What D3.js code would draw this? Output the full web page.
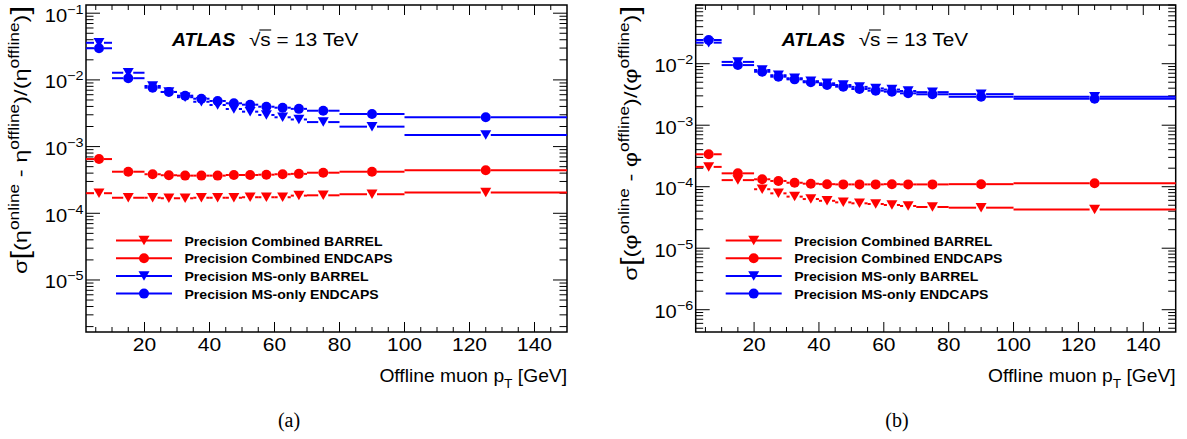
<!DOCTYPE html>
<html><head><meta charset="utf-8">
<script src="https://cdn.jsdelivr.net/npm/d3@7"></script>
<style>
body{margin:0;background:#fff}
svg{display:block}
text{font-family:"Liberation Sans",Arial,Helvetica,sans-serif;fill:#000}
</style>
</head><body>
<svg id="chart" width="1187" height="439"></svg>
<script>
// ---- data ----
const binLow    = [2, 10, 20, 25, 30, 35, 40, 45, 50, 55, 60, 65, 70, 80, 100];
const binHigh   = [10, 20, 25, 30, 35, 40, 45, 50, 55, 60, 65, 70, 80, 100, 150];
const binCenter = [6, 15, 22.5, 27.5, 32.5, 37.5, 42.5, 47.5, 52.5, 57.5, 62.5, 67.5, 75, 90, 125];

// (a) eta resolution
const etaCombBarrel  = [2.0e-4, 1.71e-4, 1.71e-4, 1.68e-4, 1.68e-4, 1.71e-4, 1.71e-4, 1.71e-4, 1.74e-4, 1.74e-4, 1.74e-4, 1.84e-4, 1.86e-4, 1.93e-4, 2.05e-4];
const etaCombEndcaps = [6.5e-4, 4.2e-4, 3.85e-4, 3.72e-4, 3.67e-4, 3.67e-4, 3.67e-4, 3.75e-4, 3.75e-4, 3.79e-4, 3.85e-4, 3.9e-4, 4.06e-4, 4.2e-4, 4.41e-4];
const etaMSBarrel    = [3.6e-2, 1.28e-2, 8.1e-3, 6.6e-3, 5.5e-3, 4.7e-3, 4.2e-3, 3.66e-3, 3.34e-3, 2.98e-3, 2.75e-3, 2.55e-3, 2.33e-3, 1.99e-3, 1.49e-3];
const etaMSEndcaps   = [2.98e-2, 1.06e-2, 7.64e-3, 6.59e-3, 5.8e-3, 5.22e-3, 4.83e-3, 4.46e-3, 4.25e-3, 3.96e-3, 3.83e-3, 3.68e-3, 3.45e-3, 3.08e-3, 2.75e-3];

// (b) phi resolution
const phiCombBarrel  = [2.1e-4, 1.28e-4, 9.1e-5, 7.8e-5, 6.9e-5, 6.3e-5, 5.9e-5, 5.57e-5, 5.37e-5, 5.23e-5, 5.04e-5, 4.86e-5, 4.68e-5, 4.56e-5, 4.28e-5];
const phiCombEndcaps = [3.37e-4, 1.65e-4, 1.32e-4, 1.24e-4, 1.16e-4, 1.12e-4, 1.1e-4, 1.09e-4, 1.09e-4, 1.09e-4, 1.1e-4, 1.09e-4, 1.09e-4, 1.1e-4, 1.135e-4];
const phiMSBarrel    = [2.2e-2, 1.07e-2, 7.9e-3, 6.5e-3, 5.8e-3, 5.2e-3, 4.8e-3, 4.5e-3, 4.2e-3, 3.97e-3, 3.8e-3, 3.6e-3, 3.45e-3, 3.2e-3, 2.9e-3];
const phiMSEndcaps   = [2.43e-2, 9.5e-3, 7.4e-3, 6.15e-3, 5.57e-3, 4.99e-3, 4.51e-3, 4.23e-3, 3.88e-3, 3.64e-3, 3.51e-3, 3.3e-3, 3.18e-3, 2.9e-3, 2.7e-3];

const legendLabels = ["Precision Combined BARREL", "Precision Combined ENDCAPS", "Precision MS-only BARREL", "Precision MS-only ENDCAPS"];
const xMajorTicks = [20, 40, 60, 80, 100, 120, 140];
const xMinorStep = 5;
const xTitle = "Offline muon p";
const captions = ["(a)", "(b)"];
const varSymbols = ["η", "φ"];

// ---- styles ----
const seriesStyle = [
  {color: "#ff0000", marker: "tri"},
  {color: "#ff0000", marker: "circ"},
  {color: "#0000ff", marker: "tri"},
  {color: "#0000ff", marker: "circ"}
];

const panels = [
  {left: 86, right: 567, top: 5, bottom: 332, yDomain: [1.66e-6, 0.1327],
   series: [etaCombBarrel, etaCombEndcaps, etaMSBarrel, etaMSEndcaps],
   sym: varSymbols[0], caption: captions[0], captionX: 289, ylabelX: 27},
  {left: 695.7, right: 1175.7, top: 5, bottom: 332, yDomain: [4.34e-7, 0.0901],
   series: [phiCombBarrel, phiCombEndcaps, phiMSBarrel, phiMSEndcaps],
   sym: varSymbols[1], caption: captions[1], captionX: 897, ylabelX: 637}
];

const svg = d3.select("#chart");

function markerPath(type, size) {
  const p = d3.path();
  if (type === "circ") {
    p.arc(0, 0, size / 2, 0, 2 * Math.PI);
  } else {
    const w = size * 1.1, h = size * 0.95;
    p.moveTo(-w / 2, -h / 2);
    p.lineTo(w / 2, -h / 2);
    p.lineTo(0, h / 2);
    p.closePath();
  }
  return p.toString();
}

// text with horizontal stretch (reference Helvetica renders wider)
function sText(parent, x, y, size, sx, anchor) {
  return parent.append("text")
    .attr("transform", `translate(${x},${y}) scale(${sx},1)`)
    .attr("font-size", size).attr("text-anchor", anchor || "start");
}

panels.forEach(P => {
  const x = d3.scaleLinear().domain([2, 150]).range([P.left, P.right]);
  const y = d3.scaleLog().domain(P.yDomain).range([P.bottom, P.top]);
  const g = svg.append("g");

  // ticks x
  const xMinor = d3.range(xMinorStep, 150, xMinorStep).filter(v => !xMajorTicks.includes(v));
  const tg = g.append("g").attr("stroke", "#000").attr("stroke-width", 1);
  xMajorTicks.forEach(v => {
    const px = x(v);
    tg.append("line").attr("x1", px).attr("x2", px).attr("y1", P.bottom).attr("y2", P.bottom - 10);
    tg.append("line").attr("x1", px).attr("x2", px).attr("y1", P.top).attr("y2", P.top + 10);
  });
  xMinor.forEach(v => {
    const px = x(v);
    tg.append("line").attr("x1", px).attr("x2", px).attr("y1", P.bottom).attr("y2", P.bottom - 5);
    tg.append("line").attr("x1", px).attr("x2", px).attr("y1", P.top).attr("y2", P.top + 5);
  });
  xMajorTicks.forEach(v => {
    sText(g, x(v), 350.5, 17.5, 1.2, "middle").text(v);
  });

  // ticks y (log)
  const lo = Math.floor(Math.log10(P.yDomain[0])), hi = Math.ceil(Math.log10(P.yDomain[1]));
  const majors = [], minors = [];
  for (let k = lo; k <= hi; k++) {
    const v = Math.pow(10, k);
    if (v >= P.yDomain[0] && v <= P.yDomain[1]) majors.push(k);
    for (let m = 2; m <= 9; m++) {
      const mv = m * Math.pow(10, k);
      if (mv >= P.yDomain[0] && mv <= P.yDomain[1]) minors.push(mv);
    }
  }
  majors.forEach(k => {
    const py = y(Math.pow(10, k));
    tg.append("line").attr("x1", P.left).attr("x2", P.left + 14).attr("y1", py).attr("y2", py);
    tg.append("line").attr("x1", P.right).attr("x2", P.right - 14).attr("y1", py).attr("y2", py);
    const t = sText(g, P.left - 2.5, py + 8.5, 17.5, 1.15, "end");
    t.append("tspan").text("10");
    t.append("tspan").attr("font-size", 12.5).attr("dy", -8).text("\u2212" + Math.abs(k));
  });
  minors.forEach(v => {
    const py = y(v);
    tg.append("line").attr("x1", P.left).attr("x2", P.left + 7.5).attr("y1", py).attr("y2", py);
    tg.append("line").attr("x1", P.right).attr("x2", P.right - 7.5).attr("y1", py).attr("y2", py);
  });

  // frame
  g.append("rect").attr("x", P.left).attr("y", P.top)
    .attr("width", P.right - P.left).attr("height", P.bottom - P.top)
    .attr("fill", "none").attr("stroke", "#000").attr("stroke-width", 1.5);

  // data
  const msize = 10;
  P.series.forEach((vals, si) => {
    const st = seriesStyle[si];
    const sg = g.append("g");
    vals.forEach((v, i) => {
      const cx = x(binCenter[i]), cy = y(v);
      const gap = msize / 2;
      sg.append("line").attr("x1", x(binLow[i])).attr("x2", cx - gap)
        .attr("y1", cy).attr("y2", cy).attr("stroke", st.color).attr("stroke-width", 2);
      sg.append("line").attr("x1", cx + gap).attr("x2", x(binHigh[i]))
        .attr("y1", cy).attr("y2", cy).attr("stroke", st.color).attr("stroke-width", 2);
    });
    sg.selectAll("path").data(vals).enter().append("path")
      .attr("d", markerPath(st.marker, msize))
      .attr("transform", (d, i) => `translate(${x(binCenter[i])},${y(d)})`)
      .attr("fill", st.color);
  });

  // legend
  legendLabels.forEach((lab, i) => {
    const st = seriesStyle[i];
    const ly = 240.5 + i * 17.7;
    const lx0 = P.left + 30;
    g.append("line").attr("x1", lx0).attr("x2", lx0 + 56).attr("y1", ly).attr("y2", ly)
      .attr("stroke", st.color).attr("stroke-width", 2);
    g.append("path").attr("d", markerPath(st.marker, msize))
      .attr("transform", `translate(${lx0 + 28},${ly})`).attr("fill", st.color);
    sText(g, P.left + 98.5, ly + 5, 13.5, 1.04, "start")
      .attr("font-weight", "bold").text(lab);
  });

  // ATLAS label
  const ax = P.left + 86, ay = 46;
  sText(g, ax, ay, 18.5, 1.05, "start")
    .attr("font-weight", "bold").attr("font-style", "italic").text("ATLAS");
  const sx = P.left + 163, sc = 1.15, fs = 18;
  const t1 = sText(g, sx, ay, fs, sc, "start").text("\u221A");
  const w1 = t1.node().getComputedTextLength() * sc;
  const t2 = sText(g, sx + w1, ay, fs, sc, "start").text("s");
  const w2 = t2.node().getComputedTextLength() * sc;
  g.append("line").attr("x1", sx + w1 - 1).attr("x2", sx + w1 + w2 + 0.5)
    .attr("y1", ay - 16).attr("y2", ay - 16).attr("stroke", "#000").attr("stroke-width", 1.1);
  sText(g, sx + w1 + w2, ay, fs, sc, "start").attr("xml:space", "preserve").text(" = 13 TeV");

  // x title
  const xt = sText(g, P.right, 381.5, 17.5, 1.1, "end");
  xt.append("tspan").text(xTitle);
  xt.append("tspan").attr("font-size", 12.5).attr("dy", 6).text("T");
  xt.append("tspan").attr("dy", -6).text(" [GeV]");

  // y title
  const yt = g.append("text")
    .attr("transform", `translate(${P.ylabelX},${P.top + 1}) rotate(-90) scale(1.24,1)`)
    .attr("text-anchor", "end").attr("font-size", 19);
  yt.append("tspan").text("σ");
  yt.append("tspan").attr("font-size", 25).attr("dy", 2).text("[");
  yt.append("tspan").attr("dy", -2).text("(" + P.sym);
  yt.append("tspan").attr("font-size", 14).attr("dy", -8).text("online");
  yt.append("tspan").attr("dy", 8).text(" - " + P.sym);
  yt.append("tspan").attr("font-size", 14).attr("dy", -8).text("offline");
  yt.append("tspan").attr("dy", 8).text(")/(" + P.sym);
  yt.append("tspan").attr("font-size", 14).attr("dy", -8).text("offline");
  yt.append("tspan").attr("dy", 8).text(")");
  yt.append("tspan").attr("font-size", 25).attr("dy", 2).text("]");

  // caption
  svg.append("text").attr("x", P.captionX).attr("y", 427).attr("text-anchor", "middle")
    .attr("font-size", 20).style("font-family", "'Liberation Serif','Times New Roman',serif")
    .text(P.caption);
});
</script>
</body></html>
